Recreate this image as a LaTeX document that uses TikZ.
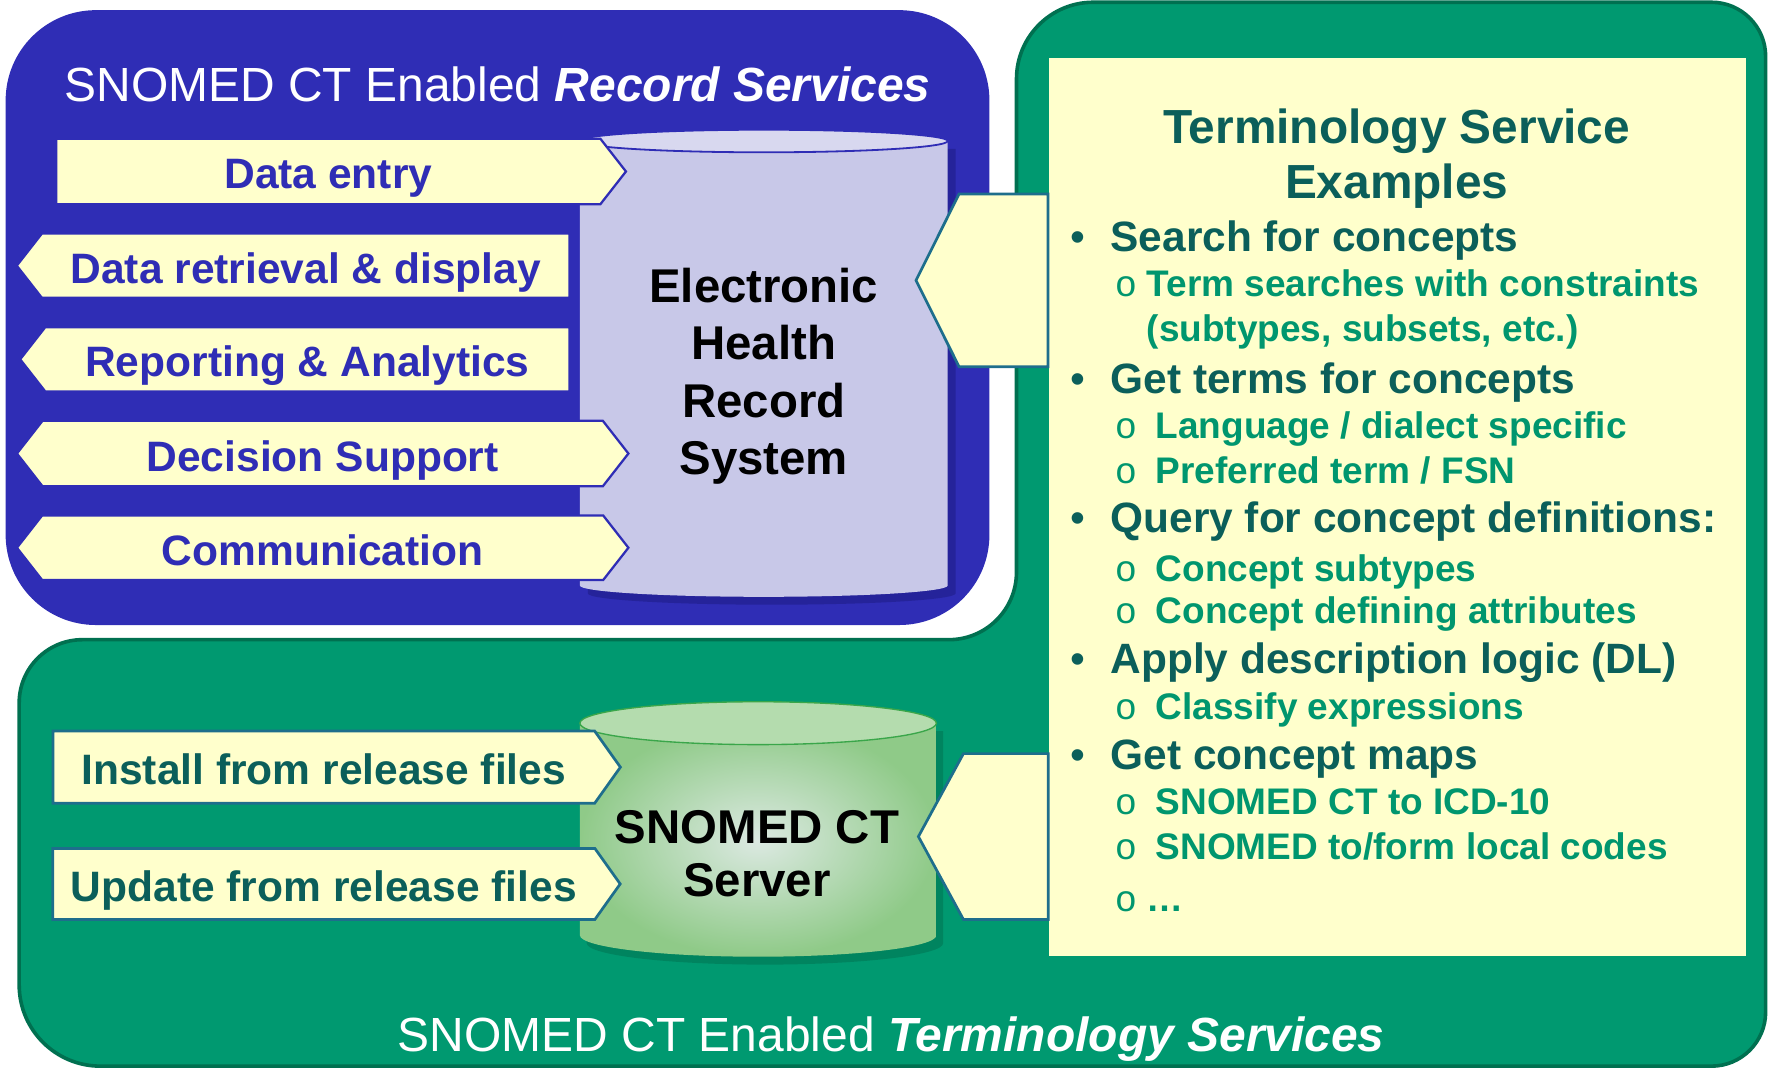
\documentclass[tikz,border=0pt]{standalone}
\usepackage{fontspec}
\setmainfont{Liberation Sans}
\newfontfamily\circfont{Liberation Mono}
\usetikzlibrary{shapes.symbols}

\definecolor{recblue}{HTML}{2F2DB5}
\definecolor{termgreen}{HTML}{009970}
\definecolor{termedge}{HTML}{007050}
\definecolor{paleyellow}{HTML}{FFFFCC}
\definecolor{tealtext}{HTML}{0B5F5A}
\definecolor{subgreen}{HTML}{00966E}
\definecolor{tabedge}{HTML}{1E6E8C}
\definecolor{ehrbody}{HTML}{C8C8E8}
\definecolor{ehrtop}{HTML}{D8D8EF}
\definecolor{ehrshade}{HTML}{1C1A80}
\definecolor{srvouter}{HTML}{8FCA88}
\definecolor{srvinner}{HTML}{DCE9E2}
\definecolor{srvtop}{HTML}{B4DCAE}
\definecolor{srvedge}{HTML}{3AA64A}

\tikzset{
  recarrow/.style={signal, signal pointer angle=104, draw=recblue, line width=1pt, fill=paleyellow, text=recblue, inner sep=0pt, text height=15.5pt, text depth=0pt, font=\bfseries\fontsize{18.85}{22}\selectfont},
  trmarrow/.style={signal, signal pointer angle=109, draw=tabedge, line width=1.2pt, fill=paleyellow, text=tealtext, inner sep=0pt, text height=15.5pt, text depth=0pt, font=\bfseries\fontsize{18.85}{22}\selectfont},
  linktab/.style={signal, signal to=west, draw=tabedge, line width=1.2pt, fill=paleyellow, inner sep=0pt},
  paneltitle/.style={anchor=base, inner sep=0pt, text=white, font=\fontsize{21.25}{25}\selectfont},
  drum/.style={align=center, anchor=north, inner sep=0pt, font=\bfseries\fontsize{21}{25.5}\selectfont},
  bul/.style={anchor=base, inner sep=0pt, text=tealtext, font=\fontsize{18.8}{22}\selectfont},
  topitem/.style={anchor=base west, inner sep=0pt, text=tealtext, font=\bfseries\fontsize{18.8}{22}\selectfont},
  subbul/.style={anchor=base, inner sep=0pt, text=subgreen, font=\circfont\fontsize{16.4}{20}\selectfont},
  subitem/.style={anchor=base west, inner sep=0pt, text=subgreen, font=\bfseries\fontsize{16.4}{20}\selectfont}
}

\begin{document}
\begin{tikzpicture}[x=0.5pt,y=-0.5pt]
  \useasboundingbox (0,0) rectangle (1568,947);

  % record services panel
  \fill[recblue, rounded corners=40pt] (5,9) rectangle (877,554);
  % terminology services panel
  \draw[termedge, fill=termgreen, line width=1.6pt] (901,300) [rounded corners=34pt] -- (901,2) [rounded corners=24pt] -- (1565,2) [rounded corners=24pt] -- (1565,945) [rounded corners=36pt] -- (17,945) [rounded corners=28pt] -- (17,567) [rounded corners=30pt] -- (901,567) -- cycle;
  \fill[paleyellow] (930,51) rectangle (1548,847);

  % EHR cylinder
  \fill[ehrshade, opacity=.5] (521,132) rectangle (847,526) (684,526) ellipse [x radius=81.5pt, y radius=5pt];
  \fill[ehrbody] (514,125) rectangle (840,519) (677,519) ellipse [x radius=81.5pt, y radius=5pt];
  \draw[recblue, fill=ehrtop, line width=.8pt] (677,125) ellipse [x radius=81.5pt, y radius=5pt];
  \node[drum] (ehr) at (677,237) {Electronic\\Health\\Record\\System};

  % server cylinder
  \fill[termedge, opacity=.5] (520,648) rectangle (836,836) (678,836) ellipse [x radius=79pt, y radius=9.5pt];
  \path[inner color=srvinner, outer color=srvouter] (514,641) rectangle (830,829) (672,829) ellipse [x radius=79pt, y radius=9.5pt];
  \draw[srvedge, fill=srvtop, line width=.6pt] (672,641) ellipse [x radius=79pt, y radius=9.5pt];
  \node[drum, font=\bfseries\fontsize{21}{23.5}\selectfont] (srv) at (671,718) {SNOMED CT\\Server};

  % record service arrows
  \node[recarrow, signal to=east, minimum width=252.5pt, minimum height=29pt] (entry) at (291,152) {Data entry};
  \node[recarrow, signal to=west, minimum width=245pt, minimum height=28.5pt] (retrieval) at (271,235.5) {Data retrieval \& display};
  \node[recarrow, signal to=west, minimum width=243.5pt, minimum height=28.5pt] (reporting) at (272.5,318.5) {Reporting \& Analytics};
  \node[recarrow, signal to=east and west, minimum width=271pt, minimum height=29pt] (decision) at (286,402) {Decision Support};
  \node[recarrow, signal to=east and west, minimum width=271pt, minimum height=28.5pt] (comm) at (286,485.5) {Communication};

  % release file arrows
  \node[trmarrow, signal to=east, minimum width=251.5pt, minimum height=32pt] (install) at (287,680) {Install from release files};
  \node[trmarrow, signal to=east, minimum width=251.5pt, minimum height=31.5pt] (update) at (287,783.5) {Update from release files};

  % links from the examples panel
  \node[linktab, signal pointer angle=127, minimum width=58.5pt, minimum height=76.5pt] (tabehr) at (889.5,248.5) {};
  \node[linktab, signal pointer angle=123, minimum width=57.5pt, minimum height=73.5pt] (tabsrv) at (891.5,741.5) {};

  % titles
  \node[paneltitle] (rectitle) at (441,90) {SNOMED CT Enabled \textbf{\textit{Record Services}}};
  \node[paneltitle] (trmtitle) at (790,932) {SNOMED CT Enabled \textbf{\textit{Terminology Services}}};
  \node[drum, text=tealtext, font=\bfseries\fontsize{21.2}{24.5}\selectfont] (examples) at (1238,96) {Terminology Service\\Examples};

  % examples list
  \foreach \y/\txt [count=\i] in {223/Search for concepts, 349/Get terms for concepts, 472/Query for concept definitions:, 597/Apply description logic (DL), 682/Get concept maps}{
    \node[bul] (dot\i) at (955,\y) {•};
    \node[topitem] (item\i) at (984,\y) {\txt};
  }
  \foreach \y/\x/\txt [count=\i] in {263/1016/Term searches with constraints, 389/1024/{Language / dialect specific}, 429/1024/{Preferred term / FSN}, 515/1024/Concept subtypes, 553/1024/Concept defining attributes, 638/1024/Classify expressions, 722/1024/SNOMED CT to ICD-10, 762/1024/{SNOMED to/form local codes}, 808/1016/…}{
    \node[subbul] (circ\i) at (998,\y) {o};
    \node[subitem] (sub\i) at (\x,\y) {\txt};
  }
  \node[subitem] (subx) at (1016,303) {(subtypes, subsets, etc.)};
\end{tikzpicture}
\end{document}
